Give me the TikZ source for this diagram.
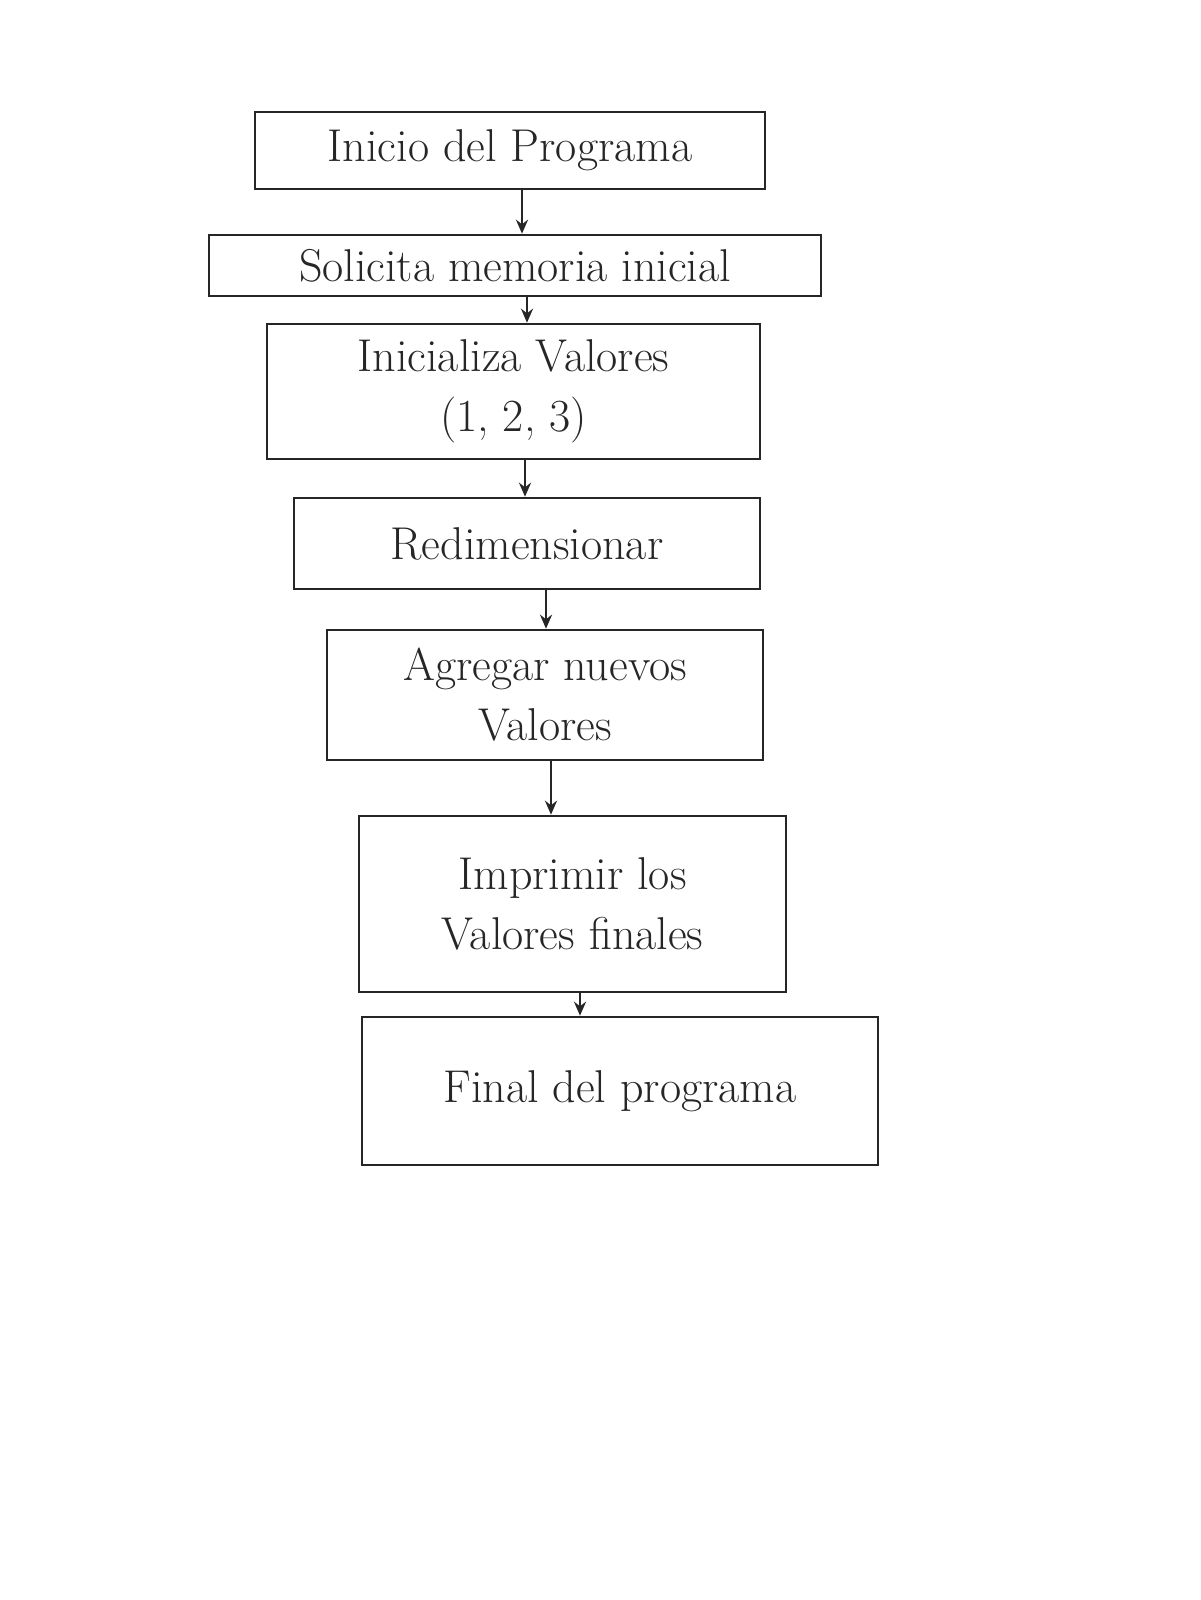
\documentclass[tikz,border=0pt]{standalone}
\usetikzlibrary{arrows.meta}
\begin{document}
\begin{tikzpicture}[x=0.5pt,y=-0.5pt,
  stepbox/.style={draw=black!85,line width=1.3pt,rectangle,inner sep=4pt,align=center,
    font=\fontsize{23}{30}\selectfont,text=black!85},
  arr/.style={draw=black!85,line width=1.2pt,-{Stealth[length=7pt,width=6pt]}}]
\useasboundingbox[fill=white] (0,0) rectangle (1200,1600);
\node[stepbox,minimum width=255pt,minimum height=38.5pt] (b1) at (510,150.5) {Inicio del Programa};
\node[stepbox,minimum width=306pt,minimum height=30.5pt] (b2) at (515,265.5) {Solicita memoria inicial};
\node[stepbox,minimum width=246.5pt,minimum height=67.5pt] (b3) at (513.5,391.5) {Inicializa Valores\\(1, 2, 3)};
\node[stepbox,minimum width=233pt,minimum height=45.5pt] (b4) at (527,543.5) {Redimensionar};
\node[stepbox,minimum width=218pt,minimum height=65pt] (b5) at (545,695) {Agregar nuevos\\Valores};
\node[stepbox,minimum width=213.5pt,minimum height=88pt] (b6) at (572.5,904) {Imprimir los\\Valores finales};
\node[stepbox,minimum width=258pt,minimum height=74pt] (b7) at (620,1091) {Final del programa};
\coordinate (x1) at (522,0);
\coordinate (x2) at (527,0);
\coordinate (x3) at (525,0);
\coordinate (x4) at (546,0);
\coordinate (x5) at (551,0);
\coordinate (x6) at (580,0);
\draw[arr] (b1.south -| x1) -- (b2.north -| x1);
\draw[arr] (b2.south -| x2) -- (b3.north -| x2);
\draw[arr] (b3.south -| x3) -- (b4.north -| x3);
\draw[arr] (b4.south -| x4) -- (b5.north -| x4);
\draw[arr] (b5.south -| x5) -- (b6.north -| x5);
\draw[arr] (b6.south -| x6) -- (b7.north -| x6);
\end{tikzpicture}
\end{document}
